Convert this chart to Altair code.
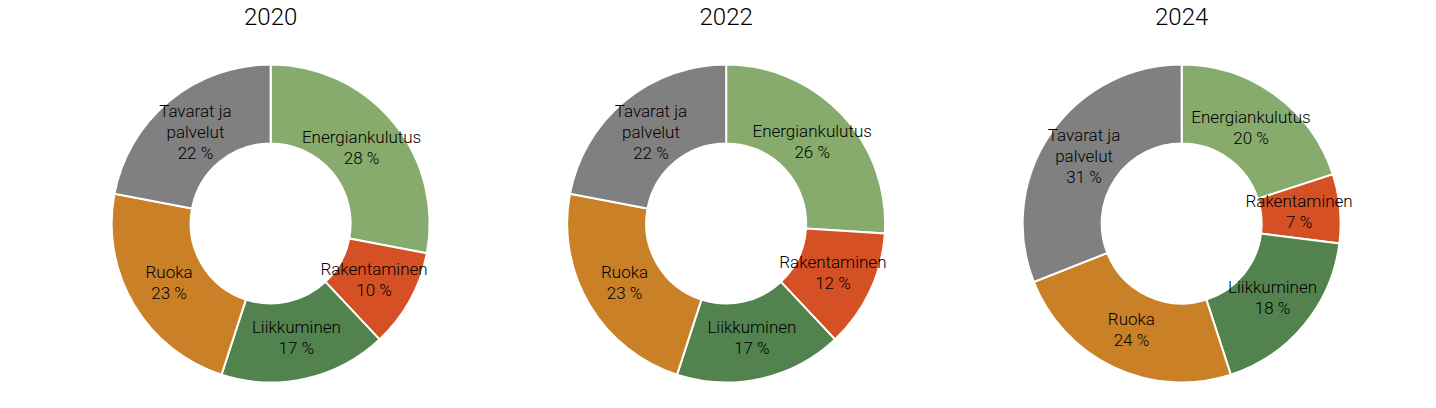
import altair as alt
import pandas as pd

years = ["2020", "2022", "2024"]
categories = ["Energiankulutus", "Rakentaminen", "Liikkuminen", "Ruoka", "Tavarat ja palvelut"]
label_text = ["Energiankulutus", "Rakentaminen", "Liikkuminen", "Ruoka", "Tavarat ja\npalvelut"]
values_2020 = [28, 10, 17, 23, 22]
values_2022 = [26, 12, 17, 23, 22]
values_2024 = [20, 7, 18, 24, 31]
colors = ["#87AB6D", "#D55024", "#52834E", "#C98027", "#808080"]

rows = []
for yr, vals in zip(years, [values_2020, values_2022, values_2024]):
    for i, (c, lab, v) in enumerate(zip(categories, label_text, vals)):
        rows.append({"year": yr, "category": c, "order": i, "value": v,
                     "label": f"{lab}\n{v} %"})
df = pd.DataFrame(rows)

FONT = "Roboto, DejaVu Sans, sans-serif"
CY = 215.5

xscale = alt.Scale(type="point", domain=years, padding=0.5587, align=0.516)
x_enc = alt.X("year:N", scale=xscale, axis=None)

base = alt.Chart(df).transform_window(
    cum="sum(value)", groupby=["year"], sort=[alt.SortField("order")],
    frame=[None, 0]
).transform_calculate(
    start="datum.cum - datum.value",
    mid="datum.cum - datum.value / 2",
    nlines="length(split(datum.label, '\\n'))"
)

theta_scale = alt.Scale(domain=[0, 100])

arcs = base.mark_arc(radius=159, innerRadius=80, stroke="white", strokeWidth=2).encode(
    x=x_enc,
    y=alt.value(CY),
    theta=alt.Theta("start:Q", scale=theta_scale, stack=None),
    theta2="cum:Q",
    color=alt.Color("category:N", scale=alt.Scale(domain=categories, range=colors), legend=None),
)

LH = 21


def label_layer(n):
    return base.transform_filter(f"datum.nlines == {n}").mark_text(
        radius=118, fontSize=17, font=FONT, fontWeight=300, lineBreak="\n",
        lineHeight=LH, color="#000000", align="center", baseline="middle",
        dy=-(n - 1) * LH / 2
    ).encode(
        x=x_enc,
        y=alt.value(CY),
        theta=alt.Theta("mid:Q", scale=theta_scale, stack=None),
        text="label:N",
    )


labels2 = label_layer(2)
labels3 = label_layer(3)

title_df = pd.DataFrame({"year": years})
titles = alt.Chart(title_df).mark_text(fontSize=24, font=FONT, fontWeight=300,
                                       color="#000000", baseline="middle").encode(
    x=x_enc,
    y=alt.value(10),
    text="year:N",
)

chart = alt.layer(arcs, labels2, labels3, titles).properties(
    width=1420, height=392, padding=0,
    autosize=alt.AutoSizeParams(type="none")
).configure_view(stroke=None)

chart.save("out.html", embed_options={"renderer": "svg", "actions": False})
